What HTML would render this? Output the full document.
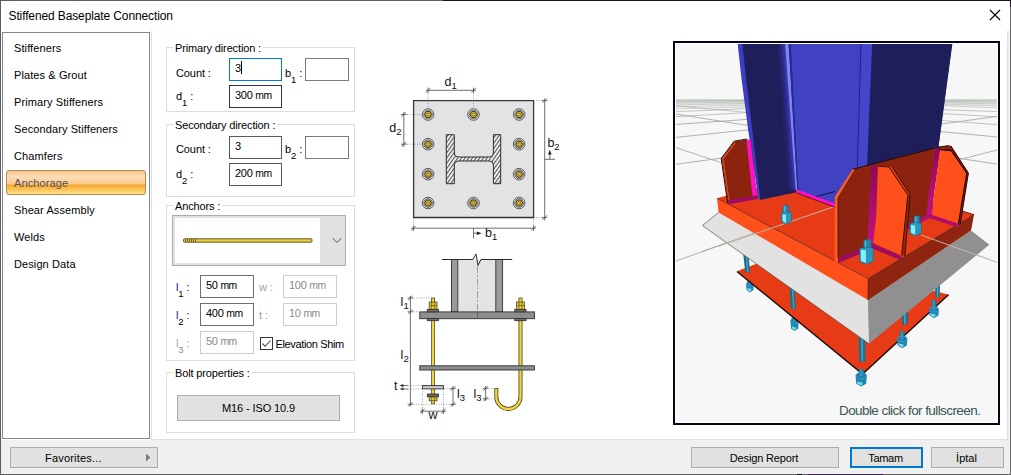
<!DOCTYPE html>
<html lang="en">
<head>
<meta charset="utf-8">
<title>Stiffened Baseplate Connection</title>
<style>
*{box-sizing:border-box;margin:0;padding:0}
html,body{width:1011px;height:475px;overflow:hidden;background:#fff}
body{position:relative;font-family:"Liberation Sans",sans-serif;font-size:11px;color:#000;line-height:1}
.abs{position:absolute}
.t{position:absolute;white-space:nowrap;line-height:14px;height:14px}
#win{position:absolute;left:0;top:0;width:1011px;height:475px;background:#fff;overflow:hidden}
#bt{left:0;top:0;width:1011px;height:1px;background:linear-gradient(to right,#606060 0,#606060 443px,#1c1224 443px)}
#bl{left:0;top:0;width:1px;height:475px;background:#5c5c5c}
#br{left:1010px;top:0;width:1px;height:475px;background:linear-gradient(to bottom,#1c1224 0,#1c1224 7px,#686868 7px)}
#bb{left:0;top:474px;width:1011px;height:1px;background:linear-gradient(to right,#606060 0,#606060 797px,#111 797px,#111 802px,#606060 802px,#606060 808px,#3a2050 808px,#3a2050 883px,#606060 883px)}
#bbar{left:1px;top:440px;width:1009px;height:34px;background:#f0f0f0}
#rstrip{left:1008px;top:31px;width:2px;height:443px;background:#f0f0f0}
#title{left:8.5px;top:8px;font-size:12px;letter-spacing:-0.12px;line-height:16px;height:16px}
#list{left:2px;top:32px;width:148px;height:407px;border:1px solid #828790;background:#fff}
.li{position:absolute;left:14px;font-size:11px;letter-spacing:0.1px;line-height:14px;height:14px;white-space:nowrap;color:#000}
#sel{left:6px;top:170px;width:140px;height:25px;border:1px solid #b08c52;border-radius:3px;
 background:linear-gradient(to bottom,#f5c78c 0%,#fbdcb6 25%,#f9cf98 50%,#f8c37c 58%,#f8a632 60%,#fbc352 80%,#fee28e 100%)}
#panel{left:151px;top:31px;width:857px;height:409px;border:1px solid #dfdfdf;border-top:0;background:#fff}
.gb{position:absolute;border:1px solid #dcdcdc;background:#fff}
.lg{position:absolute;background:#fff;white-space:nowrap;line-height:14px;height:14px;padding:0 2px;letter-spacing:-0.14px}
.in{position:absolute;height:23px;border:1px solid #7a7a7a;background:#fff;font-size:11px;line-height:14px;padding:2px 0 0 5px;white-space:nowrap;letter-spacing:-0.3px}
.u{font-size:10.4px;letter-spacing:-0.45px}
.in.dk{border-color:#6e6e6e}
.in.dis{border-color:#cccccc;color:#8a8a8a}
.in.foc{border-color:#0078d7}
.lb{position:absolute;white-space:nowrap;line-height:14px;height:14px;letter-spacing:-0.1px}
.lb sub,.dl sub{font-size:9.5px;vertical-align:baseline;position:relative;top:6px;line-height:0}
.btn{position:absolute;border:1px solid #adadad;background:#e1e1e1;text-align:center;white-space:nowrap;font-size:11px}
</style>
</head>
<body>
<div id="win">
  <div class="abs" id="bbar"></div>
  <div class="abs" id="rstrip"></div>
  <div class="t" id="title">Stiffened Baseplate Connection</div>
  <svg class="abs" style="left:989px;top:9px" width="12" height="12" viewBox="0 0 12 12"><path d="M1 1 L11 11 M11 1 L1 11" stroke="#000" stroke-width="1.1" fill="none"/></svg>

  <div class="abs" id="list">
  </div>
  <div class="abs" id="sel"></div>
  <div class="li" id="li1" style="top:41px">Stiffeners</div>
  <div class="li" id="li2" style="top:68px">Plates &amp; Grout</div>
  <div class="li" id="li3" style="top:95px">Primary Stiffeners</div>
  <div class="li" id="li4" style="top:122px">Secondary Stiffeners</div>
  <div class="li" id="li5" style="top:149px">Chamfers</div>
  <div class="li" id="li6" style="top:176px;color:#55505f">Anchorage</div>
  <div class="li" id="li7" style="top:203px">Shear Assembly</div>
  <div class="li" id="li8" style="top:230px">Welds</div>
  <div class="li" id="li9" style="top:257px">Design Data</div>

  <div class="abs" id="panel"></div>

  <!-- group boxes -->
  <div class="gb" style="left:166px;top:47px;width:189px;height:65px"></div>
  <div class="lg" id="lg1" style="left:173px;top:41px">Primary direction :</div>
  <div class="gb" style="left:166px;top:124px;width:189px;height:73px"></div>
  <div class="lg" id="lg2" style="left:173px;top:118px">Secondary direction :</div>
  <div class="gb" style="left:166px;top:205px;width:189px;height:156px"></div>
  <div class="lg" id="lg3" style="left:173px;top:199px">Anchors :</div>
  <div class="gb" style="left:166px;top:372px;width:189px;height:61px"></div>
  <div class="lg" id="lg4" style="left:173px;top:366px">Bolt properties :</div>

  <!-- primary -->
  <div class="lb" id="lbc1" style="left:176px;top:66px">Count :</div>
  <div class="in foc" id="in1" style="left:229px;top:58px;width:53px"><span id="in1t">3</span></div>
  <div class="abs" style="left:241px;top:61px;width:1px;height:13px;background:#000"></div>
  <div class="lb" id="lbb1" style="left:285px;top:66px">b<sub>1</sub> :</div>
  <div class="in" style="left:305px;top:58px;width:44px"></div>
  <div class="lb" id="lbd1" style="left:176px;top:89px">d<sub>1</sub> :</div>
  <div class="in dk" style="left:229px;top:85px;width:53px;border-color:#333"><span id="in2t">300 <span class="u">mm</span></span></div>

  <!-- secondary -->
  <div class="lb" id="lbc2" style="left:176px;top:142px">Count :</div>
  <div class="in" style="left:229px;top:136px;width:53px;border-color:#5a5a5a"><span id="in3t">3</span></div>
  <div class="lb" id="lbb2" style="left:285px;top:142px">b<sub>2</sub> :</div>
  <div class="in" style="left:305px;top:136px;width:44px"></div>
  <div class="lb" id="lbd2" style="left:176px;top:167px">d<sub>2</sub> :</div>
  <div class="in" style="left:229px;top:163px;width:53px;border-color:#5a5a5a"><span id="in4t">200 <span class="u">mm</span></span></div>

  <!-- anchors -->
  <div class="abs" style="left:172px;top:215px;width:174px;height:51px;border:1px solid #adadad;background:#e1e1e1"></div>
  <div class="abs" style="left:175px;top:218px;width:145px;height:45px;background:#fff"></div>
  <svg class="abs" style="left:180px;top:234px" width="140" height="14" viewBox="180 234 140 14">
    <rect x="183.5" y="238.8" width="128.4" height="3.4" rx=".8" fill="#ecd03a" stroke="#4e4a22" stroke-width=".9"/>
    <path d="M185.5 239.2v2.6M187.5 239.2v2.6M189.5 239.2v2.6M191.5 239.2v2.6M193.5 239.2v2.6M195.5 239.2v2.6" stroke="#4e4a22" stroke-width="1" opacity=".8"/>
  </svg>
  <svg class="abs" style="left:331px;top:236px" width="12" height="9" viewBox="0 0 12 9"><path d="M1.8 2.4 L6 6.4 L10.2 2.4" stroke="#555" stroke-width="1" fill="none"/></svg>

  <div class="lb" id="lbl1" style="left:176px;top:280px;color:#000"><span style="color:#10108c">l</span><sub>1</sub> :</div>
  <div class="in dk" style="left:200px;top:275px;width:54px"><span id="in5t">50 <span class="u">mm</span></span></div>
  <div class="lb" id="lbw" style="left:259px;top:280px;color:#a0a0a0">w :</div>
  <div class="in dis" style="left:283px;top:275px;width:54px"><span id="in6t">100 <span class="u">mm</span></span></div>

  <div class="lb" id="lbl2" style="left:176px;top:308px;color:#000"><span style="color:#10108c">l</span><sub>2</sub> :</div>
  <div class="in dk" style="left:200px;top:303px;width:54px"><span id="in7t">400 <span class="u">mm</span></span></div>
  <div class="lb" id="lbt" style="left:259px;top:308px;color:#a0a0a0">t :</div>
  <div class="in dis" style="left:283px;top:303px;width:54px"><span id="in8t">10 <span class="u">mm</span></span></div>

  <div class="lb" id="lbl3" style="left:176px;top:336px;color:#909090"><span style="color:#9aa2cc">l</span><sub>3</sub> :</div>
  <div class="in dis" style="left:200px;top:331px;width:54px"><span id="in9t">50 <span class="u">mm</span></span></div>
  <div class="abs" style="left:260px;top:337px;width:13px;height:13px;border:1px solid #333;background:#fff"></div>
  <svg class="abs" style="left:260px;top:337px" width="13" height="13" viewBox="0 0 13 13"><path d="M2.5 6.5 L5.2 9.3 L10.5 3.5" stroke="#444" stroke-width="1.1" fill="none"/></svg>
  <div class="lb" id="lbel" style="left:275.5px;top:337px;letter-spacing:-0.36px">Elevation Shim</div>

  <div class="btn" style="left:177px;top:395px;width:163px;height:26px;line-height:24px;letter-spacing:-0.1px"><span id="bt1">M16 - ISO 10.9</span></div>

  <!-- bottom buttons -->
  <div class="btn" style="left:10px;top:447px;width:148px;height:21px;line-height:20px;text-align:left;padding-left:34px;letter-spacing:.2px"><span id="bfav">Favorites...</span></div>
  <svg class="abs" style="left:145px;top:453px" width="6" height="9" viewBox="0 0 6 9"><path d="M1 0.5 L5.3 4.5 L1 8.5 Z" fill="#7a7a7a"/></svg>
  <div class="btn" style="left:691px;top:447px;width:148px;height:21px;line-height:20px;letter-spacing:-0.15px;padding-right:2px"><span id="bdr">Design Report</span></div>
  <div class="btn" style="left:850px;top:447px;width:73px;height:21px;line-height:18px;border:2px solid #0078d7;letter-spacing:-0.3px;padding-right:2px"><span id="btm">Tamam</span></div>
  <div class="btn" style="left:931px;top:447px;width:73px;height:21px;line-height:20px;padding-right:2px"><span id="bip">İptal</span></div>

  <!-- 3D view frame -->
  <div class="abs" style="left:673px;top:41px;width:327px;height:384px;border:2px solid #04041c;background:#fff"></div>
  <div class="abs" id="view" style="left:676px;top:44px;width:321px;height:378px;background:#f7f7f7;overflow:hidden">
  <svg class="abs" style="left:0;top:0" width="321" height="378" viewBox="676 44 321 378">
<defs>
<linearGradient id="fil" x1="0" x2="1" y1="0" y2="0">
 <stop offset="0" stop-color="#1e1e5a"/><stop offset=".3" stop-color="#242470"/><stop offset=".58" stop-color="#3636ac"/><stop offset=".66" stop-color="#7c7cf4"/><stop offset=".76" stop-color="#7c7cf4"/><stop offset=".84" stop-color="#3030a4"/><stop offset=".92" stop-color="#2a2a8c"/><stop offset="1" stop-color="#4141c4"/>
</linearGradient>
<linearGradient id="mg" x1="0" x2="0" y1="0" y2="1"><stop offset="0" stop-color="#8c0a50"/><stop offset="1" stop-color="#c41286"/></linearGradient>
<linearGradient id="hz" x1="0" x2="0" y1="0" y2="1"><stop offset="0" stop-color="#b4bcb4" stop-opacity=".7"/><stop offset=".35" stop-color="#c0c7c0" stop-opacity=".45"/><stop offset="1" stop-color="#d0d6d0" stop-opacity="0"/></linearGradient>
</defs>
<rect x="676" y="44" width="321" height="378" fill="#f7f7f7"/>
<!-- grid -->
<rect x="676" y="99.4" width="321" height="9" fill="url(#hz)"/>
<g id="grid" stroke="#a4aca4" stroke-width=".9" fill="none" stroke-linecap="butt">
 <g opacity=".5">
 <path d="M676 100.2H997M676 101.6L760 100.4M676 103.2L760 101.6M676 105L760 103M676 107L760 104.6M676 109L760 106.4"/>
 <path d="M930 101L997 102.2M930 102.2L997 104M930 103.6L997 106M930 105L997 108"/>
 </g>
 <g opacity=".75">
 <path d="M676 111.7L750 108.4M676 116.7L750 112.4M676 105.9L750 112.6"/>
 <path d="M940 109.6L997 111.6M940 113.4L997 116.8M940 120.4L997 124.6"/>
 </g>
 <path d="M676 124.4L750 119.2M676 137.4L750 129.7M676 164.2L724 157.8M676 114L750 125.8M676 147.6L722 163"/>
 <path d="M940 124.2L997 116.4M939 131.4L997 137M958 160L997 150M954 157.5L997 164.2"/>
 <path d="M676 261L785 222"/>
 <path d="M921 235L997 262.3"/>
</g>

<g id="nutsback">
 <g><path d="M747.6 277.0L752.4 277.0L752.4 284.9L747.6 284.9Z" fill="#1d6f8d"/><path d="M746.0 283.9L754.0 283.9L753.4 290.0L750.0 292.6L746.6 290.0Z" fill="#2387ad"/><ellipse cx="750.0" cy="283.9" rx="3.5" ry="2.5" fill="#1e7aa6" stroke="#2f9fe4" stroke-width="1"/><path d="M748.4 277.5L751.2 277.5L751.2 285.1L748.4 285.1Z" fill="#3296ba"/><path d="M747.4 288.0L751.5 289.0L750.6 291.8L747.8 290.0Z" fill="#6fe2f6"/></g>
 <g><path d="M792.2 312.0L797.0 312.0L797.0 321.5L792.2 321.5Z" fill="#1d6f8d"/><path d="M790.4 320.5L798.8 320.5L798.2 328.4L794.6 331.0L791.0 328.4Z" fill="#2387ad"/><ellipse cx="794.6" cy="320.5" rx="3.7" ry="2.9" fill="#1e7aa6" stroke="#2f9fe4" stroke-width="1"/><path d="M793.0 312.5L795.8 312.5L795.8 321.7L793.0 321.7Z" fill="#3296ba"/><path d="M791.8 326.4L796.1 327.4L795.2 330.2L792.2 328.4Z" fill="#6fe2f6"/></g>
</g>
<!-- lower plate -->
<g id="lower">
 <path d="M737 271.3L757 263.5L930 290L948.5 294.6L862.6 374Z" fill="#e63b15"/>
 <path d="M737 271.5L862.6 374L948.5 294.8" fill="none" stroke="#1c0a04" stroke-width="1.4" stroke-linejoin="miter"/>
</g>
<!-- bolt shafts under grout -->
<g id="shafts">
 <path d="M743 252L748.4 252L750 272.5L745.3 272.5Z" fill="#1d6f8d"/><path d="M746.2 253L747.8 272" stroke="#3fa6cb" stroke-width="1.4"/>
 <path d="M789.5 286L794.4 286L795.8 309L791 309Z" fill="#1d6f8d"/><path d="M792.4 287L793.8 308.5" stroke="#3fa6cb" stroke-width="1.4"/>
 <path d="M858.8 337L865.2 337L865.4 361.8L859.2 361.8Z" fill="#1d6f8d"/><path d="M862 338L862.4 361.4" stroke="#3fa6cb" stroke-width="1.6"/>
 <path d="M901.6 312L908 312L907.6 324.5L902 324.5Z" fill="#1d6f8d"/><path d="M904.8 312L904.8 324" stroke="#3fa6cb" stroke-width="1.6"/>
 <path d="M935 285L940 285L939.6 297.5L935.2 297.5Z" fill="#1d6f8d"/><path d="M937.6 285L937.6 297" stroke="#3fa6cb" stroke-width="1.4"/>
</g>
<!-- nuts under lower plate -->
<g id="nuts">
 <g><path d="M858.8 369.0L863.6 369.0L863.6 376.5L858.8 376.5Z" fill="#1d6f8d"/><path d="M855.6 375.5L866.8 375.5L866.2 383.8L861.2 386.4L856.2 383.8Z" fill="#2387ad"/><ellipse cx="861.2" cy="375.5" rx="5.1" ry="3.1" fill="#1e7aa6" stroke="#2f9fe4" stroke-width="1"/><path d="M859.6 369.5L862.4 369.5L862.4 376.7L859.6 376.7Z" fill="#3296ba"/><path d="M857.0 381.8L862.7 382.8L861.8 385.6L857.4 383.8Z" fill="#6fe2f6"/></g>
 <g><path d="M899.8 331.0L904.6 331.0L904.6 339.8L899.8 339.8Z" fill="#1d6f8d"/><path d="M897.0 338.8L907.4 338.8L906.8 345.6L902.2 348.2L897.6 345.6Z" fill="#2387ad"/><ellipse cx="902.2" cy="338.8" rx="4.7" ry="2.6" fill="#1e7aa6" stroke="#2f9fe4" stroke-width="1"/><path d="M900.6 331.5L903.4 331.5L903.4 340.0L900.6 340.0Z" fill="#3296ba"/><path d="M898.4 343.6L903.7 344.6L902.8 347.4L898.8 345.6Z" fill="#6fe2f6"/></g>
 <g><path d="M931.6 300.0L936.4 300.0L936.4 310.6L931.6 310.6Z" fill="#1d6f8d"/><path d="M929.0 309.6L939.0 309.6L938.4 315.6L934.0 318.2L929.6 315.6Z" fill="#2387ad"/><ellipse cx="934.0" cy="309.6" rx="4.5" ry="2.4" fill="#1e7aa6" stroke="#2f9fe4" stroke-width="1"/><path d="M932.4 300.5L935.2 300.5L935.2 310.8L932.4 310.8Z" fill="#3296ba"/><path d="M930.4 313.6L935.5 314.6L934.6 317.4L930.8 315.6Z" fill="#6fe2f6"/></g>
</g>

<!-- grout -->
<g id="grout">
 <path d="M702.4 225.5L718.6 212.4L868.6 299.6L869.2 343.8Z" fill="#e2e2e2"/>
 <path d="M868 299.6L971 230.5L989.3 244.7L869 343.8Z" fill="#909090"/>
 <path d="M718.6 212.4L702.4 225.5L869 343.8" fill="none" stroke="#555" stroke-width=".7"/>
</g>
<!-- grid lines over objects -->
<path d="M702 251.6L785 222" stroke="#a8a898" stroke-width=".9" fill="none"/>
<!-- base plate -->
<g id="plate">
 <path d="M717 198.2L827.5 168.7L974 214.7L868.2 278.6Z" fill="#e63b15"/>
 <path d="M717 198.2L868.2 278.6L868 300L718.6 212.4Z" fill="#ff4f1b"/>
 <path d="M868.2 278.6L974 214.7L971 230.5L868 300Z" fill="#8f250f"/>
 <path d="M717 198.2L868.2 278.6L974 214.7" fill="none" stroke="#3a0d04" stroke-width=".8" opacity=".75"/>
 <path d="M868.2 278.6L868 300" stroke="#5a1606" stroke-width=".7"/>
 <path d="M974 214.7L961.6 210.8" stroke="#3a0d04" stroke-width=".8"/>
</g>
<path d="M719 246.2L833.7 206.8" stroke="#c2b6a6" stroke-width="1" fill="none"/>
<path d="M921 235L989 259.4" stroke="#c4c2b8" stroke-width=".9" fill="none"/>

<!-- column -->
<g id="col">
 <path d="M738.5 43L952 43L938.4 147L867 166L857 168L853 170L836 198L836 205L797 191L760 199.5L748.6 130Z" fill="#2a2a7a"/>
 <path d="M742.2 43L778 43L780.2 78L784 130L791 186L796.5 192.3L760.3 199.9L752.2 130L746 78Z" fill="#1e1e5a"/>
 <path d="M737.6 43L742.2 43L746 78L752.2 130L760.3 199.9L758.3 198.7L748.2 130L741.4 78Z" fill="#3d3dc4"/>
 <path d="M790 43L861.4 43L857.8 170L853.6 170.2L836 198L836 206L797 191Z" fill="#4141c4"/>
 <path d="M777 43L790.6 43L798.2 191.4L788 189Z" fill="#222268"/>
 <path d="M780 43L785.4 43L796 190L791.2 189Z" fill="#2a2a86"/>
 <path d="M782.6 43L785.4 43L796 190L793.6 189.6Z" fill="#3535aa"/>
 <path d="M785 43L788.6 43L797.4 190.6L795.7 190Z" fill="#8282f8"/>
 <path d="M788.6 43L790.6 43L798.4 191.4L797.4 190.6Z" fill="#2a2a8c"/>
 <path d="M861 43L873 43L867.8 168L857.4 170Z" fill="#4545cc"/>
 <path d="M861 43L857.4 167" stroke="#1b1b66" stroke-width=".8"/>
 <path d="M872.2 43L952.5 43L938.4 147.6L867 167.6Z" fill="#1e1e5a"/>
 <path d="M813.7 197.4L835 191.5" stroke="#0c0c30" stroke-width=".9"/>
 <path d="M797 189.6L834.6 203.2L834.6 207L796.4 192.6Z" fill="#ff10c4"/>
 <path d="M796.4 192.8L834.6 207.2" stroke="#40082a" stroke-width=".8"/>
</g>

<!-- left stiffener -->
<g id="stl">
 <path d="M746.8 139.5L734.2 141.6L721.6 158.4L728 203.7L757 197L751 140Z" fill="#8c230f"/>
 <path d="M747 139L734.2 141.2L721.2 158.4L727.6 203" fill="none" stroke="#2a0a04" stroke-width="1"/>
 <path d="M735.4 142.4L723 158.8L729.2 202" fill="none" stroke="#e04a1c" stroke-width="1.3"/>
 <path d="M746.4 140L750.6 140L757 196.5L752.7 197.5Z" fill="#ff10c4"/>
 <path d="M728 200.2L757 195.2L758 199L728.4 204.4Z" fill="#a00c64"/>
</g>

<!-- back stiffener -->
<g id="stb">
 <path d="M852.6 169.2L938 147.3L934.5 150L928 214L906 230L838 262L838 198Z" fill="#8c230f"/>
 <path d="M852.6 169.2L938 147.3" stroke="#2a0a04" stroke-width="1.1"/>
</g>
<!-- center/front stiffener -->
<g id="stc">
 <path d="M852.6 169.2L855.4 169.4L838 198L838 262.5L834.5 261.6L834.8 196.8Z" fill="#ff5a20"/>
 <path d="M855.4 169.4L838 198L838 258" fill="none" stroke="#3a0d04" stroke-width=".7"/>
 <path d="M870.8 165L877.9 166L876.3 215L873.2 244.2L867.6 244.2L869.2 200Z" fill="url(#mg)"/>
 <path d="M877.9 166L889 166.8L907.9 195.3L907.1 200L901.6 255.3L873.2 243L876.3 215Z" fill="#ff4f1b"/>
 <path d="M889 166.8L891.8 166.2L910.2 194.8L909.6 200L904.8 256L901.6 255.3L907.1 200L907.9 195.3Z" fill="#9c2810"/>
 <path d="M889 166.8L891.8 166.2L910.2 194.8L907.9 195.3Z" fill="#de3b17"/>
 <path d="M877.9 166.2L889 167L907.9 195.3L901.6 255.3M891.8 166.2L910.2 194.8L904.8 256" fill="none" stroke="#1c0602" stroke-width=".8"/>
 <path d="M838 257.4L862 248L865 252L838 263Z" fill="#9c0c5c"/>
 <path d="M873.2 243.6L901.4 256L901 260.2L871 248Z" fill="#a00c60"/>
</g>
<!-- right stiffener -->
<g id="str">
 <path d="M934.6 147.8L940.6 147.8L934 195L932.1 215L926.6 215L928.4 195Z" fill="url(#mg)"/>
 <path d="M938 147.1L948.7 145.5L951 150.3L940 149.8Z" fill="#8c230f" stroke="#1c0602" stroke-width=".8"/>
 <path d="M940 150L951 150.5L966.8 173.2L963.2 195L958.4 224.2L932 215L934 195Z" fill="#ff4f1b"/>
 <path d="M948.7 145.5L951.4 146L968.6 173L960.2 225L958.4 224.2L966.8 173.2L951 150.5Z" fill="#8c230f"/>
 <path d="M940 149.7L951.4 150.6L966.8 173.2L958.4 224.2" fill="none" stroke="#1c0602" stroke-width="1.1"/>
 <path d="M950.6 145.8L968.4 173L960.2 224.6" fill="none" stroke="#1c0602" stroke-width=".9"/>
 <path d="M930 214.2L958.4 223.8L958 227.4L929 218Z" fill="#b0106a"/>
 <path d="M930 212.7L908 225.4L908 229.8L930 217.8Z" fill="#b00e70"/>
</g>

<!-- top bolts -->
<g id="tb">
 <g><path d="M782.8 206.2Q785.8 204.0 788.8 206.2L788.8 213.3L782.8 213.3Z" fill="#2486aa" stroke="#1a5f7c" stroke-width=".5"/><path d="M784.6 206.4L784.6 212.8" stroke="#56bfe0" stroke-width="1.3"/><path d="M781.4 212.8L785.9 211.8L791.4 212.8L791.4 221.2L786.4 224.2L781.4 221.6Z" fill="#2b98be" stroke="#1a5f7c" stroke-width=".5"/><path d="M782.6 214.4L786.0 214.8L786.0 223.0L782.6 221.0Z" fill="#86f0fc"/></g>
 <g><path d="M863.7 240.4Q867.4 238.2 871.1 240.4L871.1 248.7L863.7 248.7Z" fill="#2486aa" stroke="#1a5f7c" stroke-width=".5"/><path d="M865.5 240.6L865.5 248.2" stroke="#56bfe0" stroke-width="1.3"/><path d="M859.7 248.2L865.8 247.2L873.2 248.2L873.2 261.2L866.5 264.2L859.7 261.6Z" fill="#2b98be" stroke="#1a5f7c" stroke-width=".5"/><path d="M860.9 249.8L865.9 250.2L865.9 263.0L860.9 261.0Z" fill="#86f0fc"/></g>
 <g><path d="M913.9 216.5Q916.8 214.3 919.7 216.5L919.7 223.9L913.9 223.9Z" fill="#2486aa" stroke="#1a5f7c" stroke-width=".5"/><path d="M915.7 216.7L915.7 223.4" stroke="#56bfe0" stroke-width="1.3"/><path d="M909.8 223.4L915.0 222.4L921.4 223.4L921.4 233.0L915.6 236.0L909.8 233.4Z" fill="#2b98be" stroke="#1a5f7c" stroke-width=".5"/><path d="M911.0 225.0L915.1 225.4L915.1 234.8L911.0 232.8Z" fill="#86f0fc"/></g>
</g>
</svg>

  </div>
  <div class="t" id="dbl" style="left:839px;top:403px;font-size:13.5px;letter-spacing:-0.58px;color:#385555;line-height:16px;height:16px">Double click for fullscreen.</div>

  <svg class="abs" style="left:380px;top:60px" width="200" height="372" viewBox="380 60 200 372" font-family="'Liberation Sans',sans-serif" fill="#111">
<defs>
<pattern id="hat" width="3" height="3" patternUnits="userSpaceOnUse" patternTransform="rotate(-55)"><rect width="3" height="3" fill="#f4f4f4"/><rect width="3" height="1.1" fill="#555"/></pattern>
</defs>
<!-- plan -->
<rect x="413.6" y="100.6" width="120" height="116.8" fill="#e3e3e3" stroke="#3a3a3a" stroke-width="1.3"/>
<path d="M413 217.6H534.2" stroke="#333" stroke-width="1.2"/>
<path d="M446.3 134.7H454.3V153Q454.3 157 458.3 157H489.4Q493.4 157 493.4 153V134.7H500.7V183.7H493.4V165Q493.4 161 489.4 161H458.3Q454.3 161 454.3 165V183.7H446.3Z" fill="url(#hat)" stroke="#2e2e2e" stroke-width="1"/>
<circle cx="428.1" cy="114.5" r="5.8" fill="#f4f4f4" stroke="#333" stroke-width=".8"/><circle cx="428.1" cy="114.5" r="4.4" fill="#cfcfcf" stroke="#444" stroke-width=".7"/><polygon points="431.6,114.5 429.9,117.5 426.4,117.5 424.6,114.5 426.4,111.5 429.9,111.5" fill="#cfae24" stroke="#3a3008" stroke-width=".9"/><circle cx="428.1" cy="114.5" r="1.3" fill="#f6e27a" stroke="#5a4a10" stroke-width=".6"/><circle cx="473.5" cy="114.5" r="5.8" fill="#f4f4f4" stroke="#333" stroke-width=".8"/><circle cx="473.5" cy="114.5" r="4.4" fill="#cfcfcf" stroke="#444" stroke-width=".7"/><polygon points="477.0,114.5 475.2,117.5 471.8,117.5 470.0,114.5 471.8,111.5 475.2,111.5" fill="#cfae24" stroke="#3a3008" stroke-width=".9"/><circle cx="473.5" cy="114.5" r="1.3" fill="#f6e27a" stroke="#5a4a10" stroke-width=".6"/><circle cx="519.1" cy="114.5" r="5.8" fill="#f4f4f4" stroke="#333" stroke-width=".8"/><circle cx="519.1" cy="114.5" r="4.4" fill="#cfcfcf" stroke="#444" stroke-width=".7"/><polygon points="522.6,114.5 520.9,117.5 517.4,117.5 515.6,114.5 517.4,111.5 520.9,111.5" fill="#cfae24" stroke="#3a3008" stroke-width=".9"/><circle cx="519.1" cy="114.5" r="1.3" fill="#f6e27a" stroke="#5a4a10" stroke-width=".6"/><circle cx="428.1" cy="144.2" r="5.8" fill="#f4f4f4" stroke="#333" stroke-width=".8"/><circle cx="428.1" cy="144.2" r="4.4" fill="#cfcfcf" stroke="#444" stroke-width=".7"/><polygon points="431.6,144.2 429.9,147.2 426.4,147.2 424.6,144.2 426.4,141.2 429.9,141.2" fill="#cfae24" stroke="#3a3008" stroke-width=".9"/><circle cx="428.1" cy="144.2" r="1.3" fill="#f6e27a" stroke="#5a4a10" stroke-width=".6"/><circle cx="519.1" cy="144.2" r="5.8" fill="#f4f4f4" stroke="#333" stroke-width=".8"/><circle cx="519.1" cy="144.2" r="4.4" fill="#cfcfcf" stroke="#444" stroke-width=".7"/><polygon points="522.6,144.2 520.9,147.2 517.4,147.2 515.6,144.2 517.4,141.2 520.9,141.2" fill="#cfae24" stroke="#3a3008" stroke-width=".9"/><circle cx="519.1" cy="144.2" r="1.3" fill="#f6e27a" stroke="#5a4a10" stroke-width=".6"/><circle cx="428.1" cy="174.2" r="5.8" fill="#f4f4f4" stroke="#333" stroke-width=".8"/><circle cx="428.1" cy="174.2" r="4.4" fill="#cfcfcf" stroke="#444" stroke-width=".7"/><polygon points="431.6,174.2 429.9,177.2 426.4,177.2 424.6,174.2 426.4,171.2 429.9,171.2" fill="#cfae24" stroke="#3a3008" stroke-width=".9"/><circle cx="428.1" cy="174.2" r="1.3" fill="#f6e27a" stroke="#5a4a10" stroke-width=".6"/><circle cx="519.1" cy="174.2" r="5.8" fill="#f4f4f4" stroke="#333" stroke-width=".8"/><circle cx="519.1" cy="174.2" r="4.4" fill="#cfcfcf" stroke="#444" stroke-width=".7"/><polygon points="522.6,174.2 520.9,177.2 517.4,177.2 515.6,174.2 517.4,171.2 520.9,171.2" fill="#cfae24" stroke="#3a3008" stroke-width=".9"/><circle cx="519.1" cy="174.2" r="1.3" fill="#f6e27a" stroke="#5a4a10" stroke-width=".6"/><circle cx="428.1" cy="203.0" r="5.8" fill="#f4f4f4" stroke="#333" stroke-width=".8"/><circle cx="428.1" cy="203.0" r="4.4" fill="#cfcfcf" stroke="#444" stroke-width=".7"/><polygon points="431.6,203.0 429.9,206.0 426.4,206.0 424.6,203.0 426.4,200.0 429.9,200.0" fill="#cfae24" stroke="#3a3008" stroke-width=".9"/><circle cx="428.1" cy="203.0" r="1.3" fill="#f6e27a" stroke="#5a4a10" stroke-width=".6"/><circle cx="473.5" cy="203.0" r="5.8" fill="#f4f4f4" stroke="#333" stroke-width=".8"/><circle cx="473.5" cy="203.0" r="4.4" fill="#cfcfcf" stroke="#444" stroke-width=".7"/><polygon points="477.0,203.0 475.2,206.0 471.8,206.0 470.0,203.0 471.8,200.0 475.2,200.0" fill="#cfae24" stroke="#3a3008" stroke-width=".9"/><circle cx="473.5" cy="203.0" r="1.3" fill="#f6e27a" stroke="#5a4a10" stroke-width=".6"/><circle cx="519.1" cy="203.0" r="5.8" fill="#f4f4f4" stroke="#333" stroke-width=".8"/><circle cx="519.1" cy="203.0" r="4.4" fill="#cfcfcf" stroke="#444" stroke-width=".7"/><polygon points="522.6,203.0 520.9,206.0 517.4,206.0 515.6,203.0 517.4,200.0 520.9,200.0" fill="#cfae24" stroke="#3a3008" stroke-width=".9"/><circle cx="519.1" cy="203.0" r="1.3" fill="#f6e27a" stroke="#5a4a10" stroke-width=".6"/>
<g stroke="#4a4a4a" stroke-width=".8" fill="none">
 <path d="M426 90.3H476"/><path d="M428.1 87.6V93M473.5 87.6V93"/><path d="M425.90000000000003 92.5L430.3 88.1" /><path d="M471.3 92.5L475.7 88.1" />
 <path d="M428.1 93V109M473.5 93V109" stroke-dasharray="1 1.5" stroke="#888"/>
 <path d="M403.8 112V147"/><path d="M401 114.5H406.6M401 144.2H406.6"/><path d="M401.6 116.7L406.0 112.3" /><path d="M401.6 146.39999999999998L406.0 142.0" />
 <path d="M407 114.5H422M407 144.2H422" stroke-dasharray="1 1.5" stroke="#888"/>
 <path d="M544.7 98.5V220.5"/><path d="M542 100.6H547.4M542 217.6H547.4"/><path d="M542.5 102.8L546.9000000000001 98.39999999999999" /><path d="M542.5 219.79999999999998L546.9000000000001 215.4" />
 <path d="M536 100.6H542M536 217.6H542" stroke-dasharray="1 1.5" stroke="#888"/>
 <path d="M544.7 159.3H555"/><path d="M549.8 159V153"/>
 <path d="M411 228.2H536"/><path d="M413.5 225.5V231M533.5 225.5V231"/><path d="M411.3 230.39999999999998L415.7 226.0" /><path d="M531.3 230.39999999999998L535.7 226.0" />
 <path d="M413.5 219.5V225.5M533.5 219.5V225.5" stroke-dasharray="1 1.5" stroke="#888"/>
 <path d="M473.5 228.2V238.4"/><path d="M473.8 233.2H478"/>
</g>
<path d="M549.8 149.8L551.6 154.6H548Z" fill="#222"/>
<path d="M481.6 233.2L476.8 235V231.4Z" fill="#222"/>
<text id="d1" x="444.6" y="85.8" font-size="12.5">d<tspan font-size="9.5" dy="3">1</tspan></text>
<text id="d2" x="389.2" y="132.3" font-size="12.5">d<tspan font-size="9.5" dy="3">2</tspan></text>
<text id="b2" x="547.4" y="147.2" font-size="12.5">b<tspan font-size="9.5" dy="3">2</tspan></text>
<text id="b1" x="485" y="237.2" font-size="12.5">b<tspan font-size="9.5" dy="3">1</tspan></text>

<!-- elevation -->
<rect x="457.7" y="259.5" width="38" height="52.3" fill="#e3e3e3"/>
<rect x="451.5" y="259.5" width="6.3" height="52.3" fill="#9a9a9a" stroke="#333" stroke-width=".9"/>
<rect x="495.8" y="259.5" width="6.8" height="52.3" fill="#9a9a9a" stroke="#333" stroke-width=".9"/>
<path d="M441.9 259.5H473L476 254L478 265.4L481 259.5H512.2" fill="none" stroke="#2a2a2a" stroke-width="1"/>
<path d="M477.5 266V311" stroke="#8a8a8a" stroke-width=".8" stroke-dasharray="7 2 1.5 2" fill="none"/>
<!-- rods -->
<g fill="none">
 <path d="M433 320V404.3" stroke="#4e4a22" stroke-width="3.6"/><path d="M433 320V403.6" stroke="#f2d43c" stroke-width="2"/>
 <path d="M520.5 320V396.8A12.1 12.1 0 0 1 496.3 396.8V388" stroke="#4e4a22" stroke-width="4"/><path d="M520.5 320V396.8A12.1 12.1 0 0 1 496.3 396.8V388.8" stroke="#f2d43c" stroke-width="2.3"/>
</g>
<rect x="419.8" y="311.9" width="114.6" height="6.8" fill="#8e8e8e" stroke="#2e2e2e" stroke-width=".9"/>
<path d="M477.5 312V318.6" stroke="#555" stroke-width=".7"/>
<rect x="419.8" y="365.8" width="114.6" height="4.2" fill="#8e8e8e" stroke="#2e2e2e" stroke-width=".9"/>
<g id="nutsL">
 <rect x="431.4" y="298" width="3.2" height="4.4" fill="#f2d43c" stroke="#4e4a22" stroke-width=".8"/>
 <rect x="429.2" y="302" width="7.8" height="7.4" fill="#e6c62e" stroke="#4e4a22" stroke-width=".8"/>
 <path d="M431.6 302V309.4M434.6 302V309.4M429.2 305.6H437" stroke="#4e4a22" stroke-width=".6"/>
 <rect x="427.3" y="309.4" width="11.2" height="2.4" fill="#777" stroke="#2a2a2a" stroke-width=".8"/>
 <rect x="427.3" y="318.7" width="11.2" height="2" fill="#777" stroke="#2a2a2a" stroke-width=".8"/>
</g>
<g id="nutsR">
 <rect x="518.9" y="298" width="3.2" height="4.4" fill="#f2d43c" stroke="#4e4a22" stroke-width=".8"/>
 <rect x="516.6" y="302" width="7.8" height="7.4" fill="#e6c62e" stroke="#4e4a22" stroke-width=".8"/>
 <path d="M519 302V309.4M522 302V309.4M516.6 305.6H524.4" stroke="#4e4a22" stroke-width=".6"/>
 <rect x="514.8" y="309.4" width="11.2" height="2.4" fill="#777" stroke="#2a2a2a" stroke-width=".8"/>
 <rect x="514.8" y="318.7" width="11.2" height="2" fill="#777" stroke="#2a2a2a" stroke-width=".8"/>
</g>
<rect x="422.4" y="385.6" width="21" height="3.3" fill="#c9c9c9" stroke="#2e2e2e" stroke-width=".9"/>
<rect x="427.3" y="394" width="11.2" height="2.8" fill="#666" stroke="#2a2a2a" stroke-width=".8"/>
<rect x="429.2" y="397" width="7.8" height="3.8" fill="#e6c62e" stroke="#4e4a22" stroke-width=".8"/>
<path d="M431.6 397V400.8M434.6 397V400.8" stroke="#4e4a22" stroke-width=".6"/>
<g stroke="#4a4a4a" stroke-width=".8" fill="none">
 <path d="M410.4 296V406.5"/><path d="M407.6 298H413.2M407.6 311.8H413.2M407.6 404.3H413.2"/><path d="M408.2 300.2L412.59999999999997 295.8" /><path d="M408.2 314.0L412.59999999999997 309.6" /><path d="M408.2 406.5L412.59999999999997 402.1" />
 <path d="M413.5 298H430M413.5 311.8H419.5M413.5 404.3H450" stroke-dasharray="1 1.5" stroke="#888"/>
 <path d="M422.4 389V404.3M443.4 389V404.3" stroke-dasharray="1 1.5" stroke="#888"/>
 <path d="M402 385.6H408M402 389H408"/>
 <path d="M408 385.6H422M408 389H422" stroke-dasharray="1 1.5" stroke="#888"/>
 <path d="M453 386V406.5"/><path d="M450.2 388.4H455.8M450.2 404.3H455.8"/><path d="M450.8 390.59999999999997L455.2 386.2" /><path d="M450.8 406.5L455.2 402.1" />
 <path d="M444 388.6H450" stroke-dasharray="1 1.5" stroke="#888"/>
 <path d="M485.6 386V401"/><path d="M482.8 388.4H488.4M482.8 398.8H488.4"/><path d="M483.40000000000003 390.59999999999997L487.8 386.2" /><path d="M483.40000000000003 401.0L487.8 396.6" />
 <path d="M488.6 388.4H495M488.6 398.8H495" stroke-dasharray="1 1.5" stroke="#888"/>
 <path d="M420 411.2H446"/><path d="M422.4 408.4V414M443.4 408.4V414"/><path d="M420.2 413.4L424.59999999999997 409.0" /><path d="M441.2 413.4L445.59999999999997 409.0" />
 <path d="M422.4 404.5V408.4M443.4 404.5V408.4" stroke-dasharray="1 1.5" stroke="#888"/>
</g>
<path d="M399.6 385.6L403.4 384V387.2Z M399.6 389L403.4 387.4V390.6Z" fill="#333"/>
<text id="l1" x="400.6" y="306.4" font-size="12.5">l<tspan font-size="9.5" dy="3">1</tspan></text>
<text id="l2" x="400.6" y="358.8" font-size="12.5">l<tspan font-size="9.5" dy="3">2</tspan></text>
<text id="tt" x="394" y="389.6" font-size="12.5">t</text>
<text id="l3a" x="457" y="398.4" font-size="12.5">l<tspan font-size="9.5" dy="3">3</tspan></text>
<text id="l3b" x="473.4" y="398.4" font-size="12.5">l<tspan font-size="9.5" dy="3">3</tspan></text>
<text id="ww" x="428.4" y="419.4" font-size="12.5">w</text>
</svg>


  <div class="abs" id="bt"></div>
  <div class="abs" id="bl"></div>
  <div class="abs" id="br"></div>
  <div class="abs" id="bb"></div>
</div>
</body>
</html>
